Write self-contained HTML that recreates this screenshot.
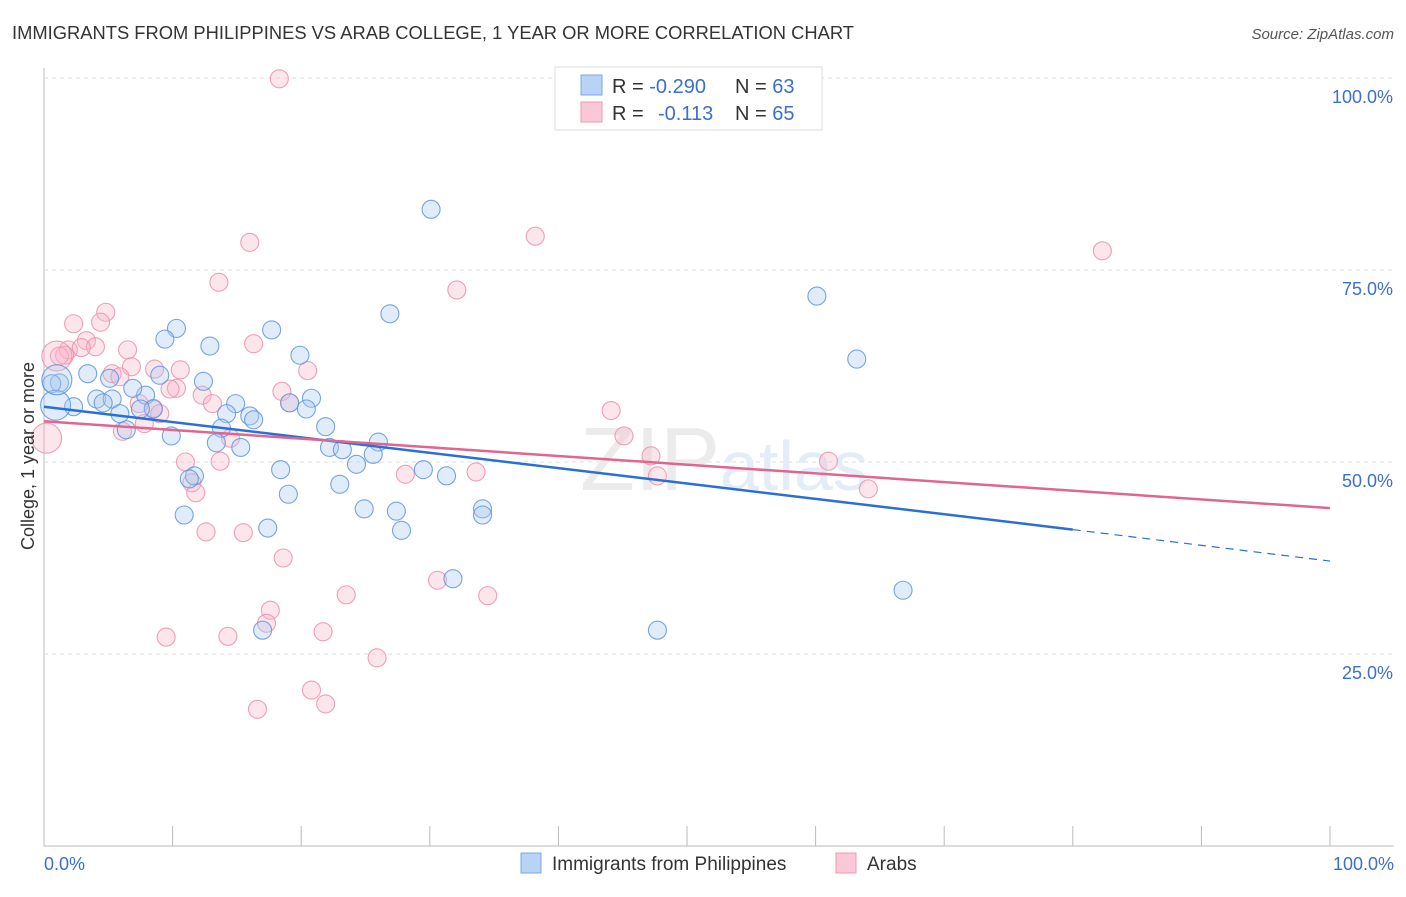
<!DOCTYPE html>
<html><head><meta charset="utf-8">
<style>
body{margin:0;background:#fff;font-family:"Liberation Sans",sans-serif;}
svg text{font-family:"Liberation Sans",sans-serif;}
</style></head>
<body>
<svg id="chart" width="1406" height="892" xmlns="http://www.w3.org/2000/svg">
<text x="12" y="39" font-size="18" fill="#333" textLength="842" lengthAdjust="spacingAndGlyphs">IMMIGRANTS FROM PHILIPPINES VS ARAB COLLEGE, 1 YEAR OR MORE CORRELATION CHART</text>
<text x="1394" y="39" font-size="15" fill="#555" font-style="italic" text-anchor="end">Source: ZipAtlas.com</text>
<g id="grid"></g>
<text x="720" y="490" font-size="90" fill="#ebebeb" font-family="Liberation Serif" text-anchor="end">ZIP</text>
<text x="720" y="490" font-size="70" fill="#e3ecf7">atlas</text>
<g id="points"></g>
<g id="trends"></g>
<text transform="translate(34,456) rotate(-90)" font-size="18" fill="#333" text-anchor="middle">College, 1 year or more</text>
<g>
<rect x="555" y="67" width="267" height="63" fill="#fff" stroke="#ddd"/>
<rect x="581" y="75" width="21" height="20" fill="#b8d3f5" stroke="#7aaae6"/>
<rect x="581" y="102" width="21" height="20" fill="#fbc8d7" stroke="#ee9ab4"/>
<text x="612" y="93" font-size="20" fill="#333">R = <tspan fill="#3a6fd0">-0.290</tspan></text>
<text x="735" y="93" font-size="20" fill="#333">N = <tspan fill="#3a6fd0">63</tspan></text>
<text x="612" y="120" font-size="20" fill="#333">R = </text>
<text x="658" y="120" font-size="20" fill="#3a6fd0">-0.113</text>
<text x="735" y="120" font-size="20" fill="#333">N = <tspan fill="#3a6fd0">65</tspan></text>
</g>
<g>
<rect x="521" y="853" width="20" height="20" fill="#b8d3f5" stroke="#7aaae6"/>
<text x="552" y="870" font-size="19" fill="#333">Immigrants from Philippines</text>
<rect x="836" y="853" width="20" height="20" fill="#fbc8d7" stroke="#ee9ab4"/>
<text x="867" y="870" font-size="19" fill="#333">Arabs</text>
</g>
</svg>
<script>
const yTicks=[25,50,75,100];
const yTickLabels=["25.0%","50.0%","75.0%","100.0%"];
const xTickLabels=["0.0%","100.0%"];
const bluePts=[[30.1,82.9],[26.9,69.3],[17.7,67.2],[10.3,67.4],[9.4,66.0],[12.9,65.1],[19.9,63.9],[60.1,71.6],[63.2,63.4],[12.4,60.5],[9.0,61.3],[3.4,61.5],[5.1,60.9],[1.2,60.3],[0.6,60.2],[7.9,58.7],[6.9,59.6],[20.8,58.3],[19.1,57.7],[14.9,57.6],[4.1,58.2],[5.3,58.2],[4.6,57.7],[2.3,57.2],[8.5,56.9],[7.5,56.9],[14.2,56.3],[16.0,56.0],[20.4,56.9],[5.9,56.3],[16.3,55.5],[13.8,54.4],[21.9,54.6],[6.4,54.2],[9.9,53.4],[26.0,52.6],[13.4,52.5],[15.3,51.9],[22.2,51.9],[23.2,51.6],[25.6,51.0],[24.3,49.7],[29.5,49.0],[31.3,48.2],[18.4,49.0],[11.7,48.2],[11.3,47.8],[23.0,47.1],[19.0,45.8],[24.9,43.9],[27.4,43.6],[34.1,43.9],[34.1,43.1],[10.9,43.1],[17.4,41.4],[27.8,41.1],[31.8,34.8],[66.8,33.3],[17.0,28.1],[47.7,28.1],[0.9,57.4],[1.0,60.7]];
const pinkPts=[[18.3,99.9],[38.2,79.4],[82.3,77.5],[16.0,78.6],[13.6,73.4],[32.1,72.4],[4.8,69.5],[2.3,68.0],[4.4,68.2],[3.3,65.8],[16.3,65.4],[4.0,65.0],[6.5,64.6],[1.9,64.6],[2.9,64.9],[1.6,63.9],[1.2,63.8],[6.8,62.4],[10.6,62.0],[8.6,62.1],[5.3,61.5],[5.9,61.1],[10.3,59.6],[9.8,59.5],[18.5,59.2],[12.3,58.7],[19.1,57.7],[13.1,57.6],[7.4,57.6],[8.5,57.0],[44.1,56.7],[9.0,56.3],[7.8,55.0],[20.5,61.9],[14.5,53.1],[6.1,54.0],[45.1,53.4],[47.2,50.8],[61.0,50.1],[11.0,50.0],[13.7,50.1],[28.1,48.4],[33.6,48.7],[47.7,48.2],[64.1,46.5],[11.5,47.3],[11.8,46.0],[12.6,40.9],[15.5,40.8],[18.6,37.5],[30.6,34.6],[23.5,32.7],[34.5,32.6],[17.6,30.7],[17.3,29.0],[9.5,27.2],[14.3,27.3],[21.7,27.9],[25.9,24.5],[20.8,20.3],[21.9,18.5],[16.6,17.8],[0.2,53.1],[1.0,63.8]];
const blueTrend=[[0,57.2],[80,41.2],[100,37.1]];
const pinkTrend=[[0,55.3],[100,44.0]];
const NS="http://www.w3.org/2000/svg";
const X=v=>44+v*12.86;
const Y=v=>846-v*7.68;
const g=document.getElementById('grid');
function mk(t,a,p){const e=document.createElementNS(NS,t);for(const k in a)e.setAttribute(k,a[k]);p.appendChild(e);return e;}
let ax=mk('line',{x1:44,y1:68,x2:44,y2:846,stroke:'#bbb'},g);


let bx=mk('line',{x1:44,y1:846,x2:1394,y2:846,stroke:'#bbb'},g);


yTicks.forEach((t,i)=>{
 const l=mk('line',{x1:44,x2:1394,y1:Y(t),y2:Y(t),stroke:'#ddd','stroke-dasharray':'4,4'},g);
 
 
 const tx=mk('text',{x:1393,y:Y(t)+25,'font-size':18,fill:'#3a6fd0','text-anchor':'end'},g);
 tx.textContent=yTickLabels[i];
 
 
});
for(let i=1;i<=10;i++){
 const tk=mk('line',{x1:X(i*10),x2:X(i*10),y1:826,y2:846,stroke:'#bbb'},g);
 
 
}
[[0,'start'],[100,'end']].forEach((d,i)=>{
 const tx=mk('text',{x:i?1394:44,y:870,'font-size':18,fill:'#3a6fd0','text-anchor':d[1]},g);
 tx.textContent=xTickLabels[i];
 
 
});
const pg=document.getElementById('points');
function dots(arr,fill,stroke,name,bigIdx){
 arr.forEach((p,i)=>{
  const r=i>=bigIdx?15:9;
  const c=mk('circle',{cx:X(p[0]),cy:Y(p[1]),r:r,fill:fill,'fill-opacity':0.35,stroke:stroke,'stroke-width':1.1,'stroke-opacity':0.85},pg);
  
  
 });
}
dots(pinkPts,'#f8b4c8','#ec8fab','arab-point',pinkPts.length-2);
dots(bluePts,'#a9c9f1','#5d95df','philippines-point',bluePts.length-2);
const tg=document.getElementById('trends');
const b1=mk('line',{x1:X(blueTrend[0][0]),y1:Y(blueTrend[0][1]),x2:X(blueTrend[1][0]),y2:Y(blueTrend[1][1]),stroke:'#2a6fd6','stroke-width':2.5},tg);


const b2=mk('line',{x1:X(blueTrend[1][0]),y1:Y(blueTrend[1][1]),x2:X(blueTrend[2][0]),y2:Y(blueTrend[2][1]),stroke:'#2a6fd6','stroke-width':1.2,'stroke-dasharray':'8,6'},tg);


const p1=mk('line',{x1:X(pinkTrend[0][0]),y1:Y(pinkTrend[0][1]),x2:X(pinkTrend[1][0]),y2:Y(pinkTrend[1][1]),stroke:'#e0658f','stroke-width':2.5},tg);


</script>
</body></html>
